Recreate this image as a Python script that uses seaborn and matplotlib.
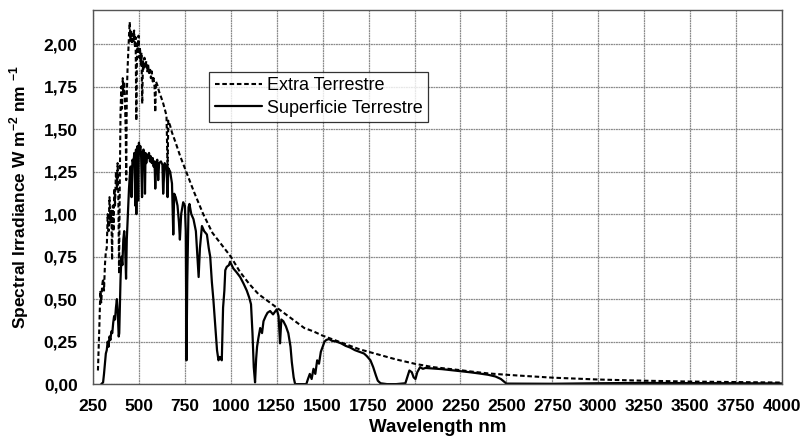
"""
Solar spectral irradiance: extra-terrestrial vs. earth surface.
"""

import matplotlib
matplotlib.use('Agg')
import matplotlib.pyplot as plt
from matplotlib.ticker import FuncFormatter, MultipleLocator
import pandas as pd
import seaborn as sns

# ─────────────────────────────────────────────
# Data
# ─────────────────────────────────────────────
extra_wl = [277, 285, 290, 295, 300, 305, 310, 315, 320, 325, 330, 335, 340, 345,
            350, 354, 358, 362, 366, 370, 375, 380, 384, 388, 392, 396, 400, 404,
            408, 412, 416, 420, 424, 428, 431, 434, 438, 442, 446, 450, 454, 458,
            462, 466, 470, 474, 478, 482, 486, 490, 494, 498, 502, 506, 510, 514,
            518, 522, 526, 530, 535, 540, 545, 550, 555, 560, 565, 570, 575, 580,
            585, 589, 593, 600, 610, 620, 630, 640, 650, 656, 660, 670, 680, 700,
            725, 750, 800, 850, 900, 950, 1000, 1050, 1100, 1150, 1200, 1250, 1300,
            1350, 1400, 1450, 1500, 1550, 1600, 1650, 1700, 1750, 1800, 1900, 2000,
            2100, 2200, 2250, 2300, 2400, 2500, 2600, 2750, 3000, 3250, 3500, 3750,
            4000]
extra_val = [0.08, 0.35, 0.55, 0.48, 0.58, 0.62, 0.55, 0.70, 0.78, 0.80, 1.00, 0.90,
             1.10, 0.95, 1.02, 0.73, 1.05, 0.90, 1.15, 1.05, 1.25, 1.15, 1.30, 1.10,
             0.65, 1.20, 1.60, 1.75, 1.62, 1.80, 1.70, 1.78, 1.65, 1.50, 1.20, 1.70,
             1.85, 1.95, 2.05, 2.13, 2.02, 2.08, 2.00, 2.06, 2.02, 2.08, 1.98, 2.04,
             1.55, 2.00, 1.96, 2.05, 1.92, 1.98, 1.88, 1.95, 1.65, 1.90, 1.85, 1.92,
             1.86, 1.90, 1.84, 1.88, 1.83, 1.86, 1.80, 1.84, 1.78, 1.80, 1.75, 1.60,
             1.78, 1.76, 1.72, 1.69, 1.66, 1.62, 1.58, 1.27, 1.55, 1.52, 1.48, 1.42,
             1.34, 1.27, 1.13, 1.00, 0.89, 0.82, 0.75, 0.66, 0.59, 0.53, 0.49, 0.45,
             0.41, 0.37, 0.33, 0.31, 0.285, 0.265, 0.245, 0.225, 0.205, 0.19, 0.175,
             0.145, 0.12, 0.10, 0.088, 0.082, 0.075, 0.063, 0.055, 0.048, 0.038,
             0.027, 0.020, 0.015, 0.012, 0.009]

surface_wl = [295, 305, 310, 315, 320, 325, 330, 335, 340, 345, 350, 355, 360, 365,
              370, 375, 380, 385, 390, 393, 396, 400, 405, 410, 415, 420, 425, 430,
              434, 438, 442, 446, 450, 455, 460, 465, 470, 475, 480, 484, 486, 488,
              492, 496, 500, 504, 508, 512, 517, 520, 525, 530, 533, 536, 540, 545,
              550, 555, 560, 565, 570, 575, 580, 585, 589, 593, 600, 605, 610, 620,
              628, 632, 640, 650, 656, 660, 670, 680, 687, 692, 700, 710, 718, 723,
              730, 741, 750, 755, 759, 763, 770, 775, 785, 797, 810, 818, 825, 832,
              843, 855, 870, 880, 888, 897, 905, 915, 925, 933, 940, 951, 958, 965,
              970, 978, 990, 996, 1005, 1014, 1030, 1051, 1070, 1087, 1100, 1110,
              1118, 1125, 1132, 1138, 1143, 1150, 1160, 1170, 1178, 1190, 1200, 1214,
              1230, 1250, 1260, 1268, 1275, 1286, 1300, 1313, 1325, 1332, 1342, 1350,
              1380, 1411, 1420, 1430, 1440, 1450, 1460, 1470, 1480, 1490, 1500, 1510,
              1520, 1535, 1550, 1575, 1600, 1625, 1650, 1675, 1700, 1725, 1740, 1760,
              1775, 1790, 1800, 1815, 1850, 1900, 1950, 1960, 1972, 1985, 1995, 2005,
              2015, 2030, 2045, 2060, 2100, 2150, 2200, 2250, 2300, 2350, 2400, 2440,
              2470, 2490, 2500, 2750, 3000, 3250, 3500, 3750, 4000]
surface_val = [0.0, 0.01, 0.06, 0.12, 0.18, 0.20, 0.25, 0.22, 0.28, 0.26, 0.31, 0.30,
               0.36, 0.40, 0.38, 0.45, 0.50, 0.42, 0.28, 0.30, 0.45, 0.62, 0.75, 0.70,
               0.85, 0.90, 0.80, 0.62, 0.85, 0.95, 1.05, 1.15, 1.22, 1.28, 1.10, 1.32,
               1.30, 1.36, 1.05, 1.38, 1.00, 1.36, 1.40, 1.08, 1.42, 1.38, 1.40, 1.34,
               1.10, 1.36, 1.38, 1.33, 1.12, 1.36, 1.30, 1.35, 1.33, 1.36, 1.31, 1.34,
               1.30, 1.33, 1.28, 1.31, 1.15, 1.30, 1.32, 1.20, 1.30, 1.31, 1.29, 1.12,
               1.30, 1.28, 1.10, 1.27, 1.25, 1.18, 0.88, 1.12, 1.10, 1.05, 0.95, 0.85,
               1.00, 1.07, 1.05, 0.90, 0.14, 0.60, 1.04, 1.06, 1.00, 0.97, 0.90, 0.75,
               0.63, 0.80, 0.93, 0.90, 0.88, 0.80, 0.75, 0.60, 0.50, 0.35, 0.20, 0.14,
               0.16, 0.14, 0.45, 0.55, 0.67, 0.69, 0.70, 0.72, 0.70, 0.68, 0.66, 0.63,
               0.59, 0.55, 0.51, 0.47, 0.30, 0.10, 0.01, 0.15, 0.22, 0.27, 0.33, 0.30,
               0.37, 0.40, 0.42, 0.43, 0.41, 0.44, 0.40, 0.24, 0.38, 0.37, 0.34, 0.30,
               0.22, 0.13, 0.04, 0.0, 0.0, 0.0, 0.03, 0.06, 0.03, 0.09, 0.06, 0.14,
               0.12, 0.19, 0.22, 0.25, 0.26, 0.265, 0.255, 0.25, 0.24, 0.225, 0.215,
               0.20, 0.19, 0.18, 0.165, 0.14, 0.10, 0.05, 0.02, 0.005, 0.0, 0.0, 0.005,
               0.04, 0.08, 0.07, 0.04, 0.03, 0.07, 0.10, 0.09, 0.095, 0.092, 0.088,
               0.082, 0.076, 0.07, 0.063, 0.055, 0.045, 0.03, 0.012, 0.003, 0.002,
               0.005, 0.007, 0.006, 0.005, 0.004]

x_ticks = list(range(250, 4001, 250))

# ─────────────────────────────────────────────
# Plot
# ─────────────────────────────────────────────
sns.set_style("white")
plt.rcParams['font.family'] = ['Liberation Sans', 'DejaVu Sans']
plt.rcParams['mathtext.fontset'] = 'custom'
plt.rcParams['mathtext.rm'] = 'Liberation Sans:bold'
plt.rcParams['mathtext.bf'] = 'Liberation Sans:bold'
plt.rcParams['text.color'] = 'black'
plt.rcParams['axes.labelcolor'] = 'black'
plt.rcParams['xtick.color'] = 'black'
plt.rcParams['ytick.color'] = 'black'

fig = plt.figure(figsize=(8.05, 4.41), dpi=100)
ax = fig.add_axes([0.1155, 0.129, 0.856, 0.848])

df_extra = pd.DataFrame({"wl": extra_wl, "val": extra_val})
df_surf = pd.DataFrame({"wl": surface_wl, "val": surface_val})

sns.lineplot(data=df_extra, x="wl", y="val", ax=ax, color="black", lw=1.5,
             estimator=None, label="Extra Terrestre")
ax.lines[-1].set_dashes((2.2, 1.3))
sns.lineplot(data=df_surf, x="wl", y="val", ax=ax, color="black", lw=1.6,
             estimator=None, label="Superficie Terrestre")

ax.set_xlim(250, 4000)
ax.set_ylim(0, 2.2)
ax.set_xticks(x_ticks)
ax.yaxis.set_major_locator(MultipleLocator(0.25))
ax.yaxis.set_major_formatter(FuncFormatter(lambda v, p: f"{v:.2f}".replace(".", ",")))

ax.grid(True, color="#8a8a8a", lw=0.9, ls=(0, (1.5, 0.5)))
ax.set_axisbelow(True)
for s in ax.spines.values():
    s.set_color("#555555")
    s.set_linewidth(1.0)

ax.tick_params(axis="both", direction="out", length=4, width=0.8, color="#555555",
               labelcolor="black", labelsize=12.5, pad=7)
for lbl in ax.get_xticklabels() + ax.get_yticklabels():
    lbl.set_fontweight("bold")

ax.set_xlabel("Wavelength nm", fontsize=13.5, fontweight="bold", labelpad=3)
ax.set_ylabel("Spectral Irradiance W m$^{-2}$ nm $^{-1}$",
              fontsize=12.5, fontweight="bold", labelpad=9)

leg = ax.legend(loc="upper left", bbox_to_anchor=(0.169, 0.835), fontsize=13,
                frameon=True, fancybox=False, handlelength=2.6, borderpad=0.3,
                labelspacing=0.3, handletextpad=0.3, borderaxespad=0)
leg.get_frame().set_edgecolor("black")
leg.get_frame().set_linewidth(0.9)
for t in leg.get_texts():
    t.set_color("black")

plt.savefig("out.png", dpi=100)
